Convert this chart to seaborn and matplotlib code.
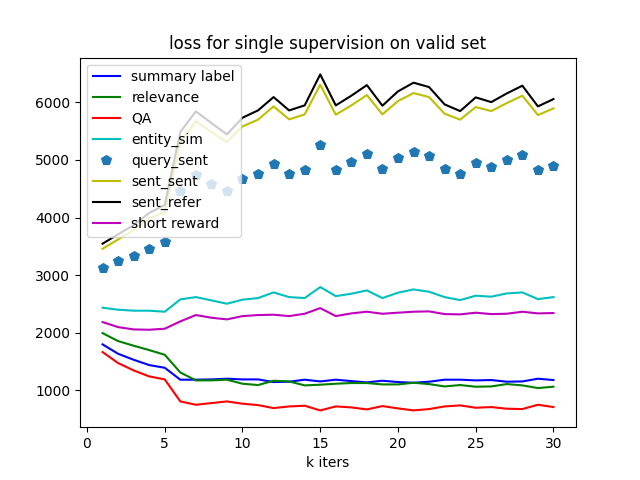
import matplotlib
matplotlib.use('Agg')
import matplotlib.pyplot as plt
import seaborn as sns

# k iters
k_iters = list(range(1, 31))

summary_label = [1799, 1636, 1532, 1440, 1393, 1186, 1186, 1191, 1203, 1191,
                 1191, 1145, 1151, 1186, 1156, 1186, 1162, 1139, 1168, 1145,
                 1133, 1151, 1186, 1186, 1174, 1180, 1151, 1156, 1203, 1180]
relevance = [1995, 1856, 1776, 1700, 1619, 1312, 1174, 1174, 1186, 1116,
             1093, 1168, 1156, 1087, 1099, 1116, 1128, 1128, 1104, 1104,
             1133, 1110, 1069, 1093, 1064, 1069, 1110, 1087, 1041, 1064]
qa = [1665, 1475, 1347, 1243, 1191, 809, 751, 780, 809, 769,
      745, 693, 722, 734, 653, 722, 705, 670, 728, 688,
      653, 676, 722, 740, 699, 711, 682, 676, 751, 711]
entity_sim = [2436, 2401, 2384, 2384, 2366, 2580, 2620, 2563, 2505, 2575,
              2603, 2701, 2620, 2603, 2794, 2637, 2678, 2736, 2603, 2696,
              2753, 2713, 2620, 2568, 2644, 2627, 2684, 2701, 2585, 2620]
query_sent = [3130, 3245, 3326, 3460, 3570, 4455, 4745, 4588, 4455, 4675,
              4762, 4936, 4762, 4832, 5253, 4819, 4964, 5097, 4837, 5033,
              5132, 5074, 4837, 4762, 4941, 4871, 4993, 5080, 4819, 4901]
sent_sent = [3460, 3620, 3780, 3990, 4090, 5300, 5677, 5484, 5311, 5583,
             5700, 5931, 5705, 5792, 6307, 5786, 5948, 6127, 5792, 6023,
             6162, 6092, 5803, 5700, 5919, 5849, 5988, 6116, 5780, 5896]
sent_refer = [3547, 3710, 3870, 4080, 4220, 5484, 5844, 5641, 5444, 5734,
              5861, 6092, 5861, 5948, 6486, 5948, 6116, 6300, 5943, 6191,
              6342, 6266, 5965, 5849, 6087, 6005, 6156, 6290, 5931, 6057]
short_reward = [2186, 2099, 2059, 2053, 2071, 2198, 2308, 2262, 2233, 2290,
                2308, 2314, 2290, 2331, 2429, 2290, 2337, 2366, 2331, 2349,
                2366, 2372, 2325, 2320, 2349, 2325, 2331, 2366, 2337, 2343]

fig, ax = plt.subplots(figsize=(6.4, 4.8), dpi=100)

sns.lineplot(x=k_iters, y=summary_label, color='b', label='summary label', ax=ax)
sns.lineplot(x=k_iters, y=relevance, color='g', label='relevance', ax=ax)
sns.lineplot(x=k_iters, y=qa, color='r', label='QA', ax=ax)
sns.lineplot(x=k_iters, y=entity_sim, color='c', label='entity_sim', ax=ax)
sns.lineplot(x=k_iters, y=query_sent, color='#1f77b4', linestyle='', marker='p',
             markersize=7, markeredgecolor='#1f77b4', label='query_sent', ax=ax)
sns.lineplot(x=k_iters, y=sent_sent, color='y', label='sent_sent', ax=ax)
sns.lineplot(x=k_iters, y=sent_refer, color='k', label='sent_refer', ax=ax)
sns.lineplot(x=k_iters, y=short_reward, color='m', label='short reward', ax=ax)

ax.set_title('loss for single supervision on valid set')
ax.set_xlabel('k iters')
ax.legend(loc='upper left')

plt.savefig('out.png', dpi=100)
